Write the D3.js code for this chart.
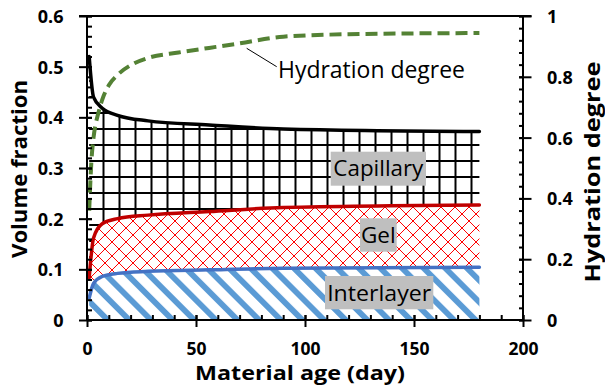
<!DOCTYPE html>
<html>
<head>
<meta charset="utf-8">
<script src="https://cdn.jsdelivr.net/npm/d3@7"></script>
<style>
  html, body { margin: 0; padding: 0; background: #fff; }
  svg { display: block; }
  text { font-family: "Open Sans", Lato, sans-serif; }
</style>
</head>
<body>
<svg id="chart" width="605" height="390"></svg>
<script>
// Material age (days) at which the pore volume fractions were computed
const days = [1, 3, 7, 14, 28, 56, 90, 180];
// Cumulative volume fraction: top of interlayer, top of gel, top of capillary
const interlayerTop = [0.043, 0.072, 0.086, 0.092, 0.096, 0.099, 0.102, 0.104];
const gelTop        = [0.083, 0.162, 0.190, 0.200, 0.207, 0.214, 0.222, 0.227];
const capillaryTop  = [0.520, 0.440, 0.418, 0.404, 0.393, 0.385, 0.377, 0.372];

// Degree of hydration (right axis)
const hydrationDays = [1, 2, 3, 4, 5, 7, 10, 14, 21, 28, 42, 56, 70, 90, 120, 180];
const hydration     = [0.36, 0.52, 0.60, 0.645, 0.675, 0.725, 0.772, 0.806, 0.842, 0.862, 0.88, 0.895, 0.91, 0.932, 0.94, 0.944];

// Axis ticks
const xMajor = [0, 50, 100, 150, 200];
const xMinor = d3.range(0, 201, 10);
const yLeftMajor = [0, 0.1, 0.2, 0.3, 0.4, 0.5, 0.6];
const yLeftMinor = d3.range(0, 0.6001, 0.02);
const yRightMajor = [0, 0.2, 0.4, 0.6, 0.8, 1];
const yRightMinor = d3.range(0, 1.0001, 0.04);

const zoneNames = ["Capillary", "Gel", "Interlayer"];

const svg = d3.select("#chart");
const x = d3.scaleLinear().domain([0, 200]).range([87, 523]);
const yL = d3.scaleLinear().domain([0, 0.6]).range([320, 16]);
const yR = d3.scaleLinear().domain([0, 1]).range([320, 16]);

// ---- fill patterns ----
const defs = svg.append("defs");

// capillary: black square grid
const grid = defs.append("pattern").attr("id", "pGrid")
  .attr("patternUnits", "userSpaceOnUse")
  .attr("x", 6.5).attr("y", 0).attr("width", 16).attr("height", 16);
grid.append("rect").attr("x", 0).attr("y", 0).attr("width", 2).attr("height", 16).attr("fill", "#000");
grid.append("rect").attr("x", 0).attr("y", 0).attr("width", 16).attr("height", 2).attr("fill", "#000");

// gel: red diagonal crosshatch
const cross = defs.append("pattern").attr("id", "pCross")
  .attr("patternUnits", "userSpaceOnUse")
  .attr("x", 0).attr("y", 4).attr("width", 14).attr("height", 14);
cross.append("path").attr("d", "M0,0L14,14M14,0L0,14")
  .attr("stroke", "#ff0000").attr("stroke-width", 1).attr("fill", "none")
  .attr("shape-rendering", "crispEdges");

// interlayer: wide blue downward diagonal stripes
const stripe = defs.append("pattern").attr("id", "pStripe")
  .attr("patternUnits", "userSpaceOnUse")
  .attr("width", 15.3).attr("height", 15.3)
  .attr("patternTransform", "rotate(-45)");
stripe.append("rect").attr("x", 0).attr("y", 0).attr("width", 5.8).attr("height", 15.3).attr("fill", "#5b9bd5");

// ---- stacked zones ----
const rows = days.map((d, i) => ({ d, a: interlayerTop[i], g: gelTop[i], c: capillaryTop[i] }));
const curve = d3.curveMonotoneX;

svg.append("path").datum(rows)
  .attr("fill", "url(#pStripe)")
  .attr("d", d3.area().curve(curve).x(r => x(r.d)).y0(yL(0)).y1(r => yL(r.a)));
svg.append("path").datum(rows)
  .attr("fill", "url(#pCross)")
  .attr("d", d3.area().curve(curve).x(r => x(r.d)).y0(r => yL(r.a)).y1(r => yL(r.g)));
svg.append("path").datum(rows)
  .attr("fill", "url(#pGrid)")
  .attr("d", d3.area().curve(curve).x(r => x(r.d)).y0(r => yL(r.g)).y1(r => yL(r.c)));

// ---- boundary lines ----
const lineOf = key => d3.line().curve(curve).x(r => x(r.d)).y(r => yL(r[key]));
[["a", "#4472c4"], ["g", "#c00000"], ["c", "#000000"]].forEach(([k, col]) => {
  svg.append("path").datum(rows)
    .attr("fill", "none").attr("stroke", col).attr("stroke-width", 3.5)
    .attr("stroke-linecap", "round").attr("stroke-linejoin", "round")
    .attr("d", lineOf(k));
});

// ---- hydration degree ----
const hyd = hydrationDays.map((d, i) => ({ d, h: hydration[i] }));
svg.append("path").datum(hyd)
  .attr("fill", "none").attr("stroke", "#548235").attr("stroke-width", 4)
  .attr("stroke-dasharray", "12,6")
  .attr("d", d3.line().curve(curve).x(p => x(p.d)).y(p => yR(p.h)));

// ---- axes ----
const axisStyle = g => {
  g.select(".domain").remove();
  g.selectAll("line").attr("stroke", "#000").attr("stroke-width", 2);
  g.selectAll("text").attr("font-weight", "bold").attr("font-size", 18)
    .attr("fill", "#000").attr("font-family", "'Open Sans', sans-serif");
};

// frame
svg.append("line").attr("x1", 79).attr("x2", 531.5).attr("y1", 16).attr("y2", 16)
  .attr("stroke", "#000").attr("stroke-width", 2);
svg.append("line").attr("x1", 87).attr("x2", 87).attr("y1", 16).attr("y2", 321)
  .attr("stroke", "#000").attr("stroke-width", 2);
svg.append("line").attr("x1", 523).attr("x2", 523).attr("y1", 16).attr("y2", 321)
  .attr("stroke", "#000").attr("stroke-width", 2);
svg.append("line").attr("x1", 86).attr("x2", 524).attr("y1", 320).attr("y2", 320)
  .attr("stroke", "#000").attr("stroke-width", 2);

// bottom axis
svg.append("g").attr("transform", "translate(0,320)")
  .call(d3.axisBottom(x).tickValues(xMinor).tickSize(-5).tickFormat(""))
  .call(axisStyle);
svg.append("g").attr("transform", "translate(0,320)")
  .call(d3.axisBottom(x).tickValues(xMajor).tickSize(7).tickFormat(d3.format("d")))
  .call(axisStyle)
  .call(g => {
    g.selectAll(".tick line").attr("y1", -5).attr("y2", 7);
    g.selectAll(".tick text").attr("y", 35).attr("dy", 0).attr("font-size", 17.5);
  });

// left axis
const fmtL = d => d === 0 ? "0" : d3.format(".1f")(d);
svg.append("g").attr("transform", "translate(87,0)")
  .call(d3.axisLeft(yL).tickValues(yLeftMinor).tickSize(-5).tickFormat(""))
  .call(axisStyle);
svg.append("g").attr("transform", "translate(87,0)")
  .call(d3.axisLeft(yL).tickValues(yLeftMajor).tickSize(8).tickFormat(fmtL))
  .call(axisStyle)
  .call(g => {
    g.selectAll(".tick line").attr("x1", 5).attr("x2", -8);
    g.selectAll(".tick text").attr("x", -23.5).attr("dy", "0.36em");
  });

// right axis
const fmtR = d => (d === 0 || d === 1) ? String(d) : d3.format(".1f")(d);
svg.append("g").attr("transform", "translate(523,0)")
  .call(d3.axisRight(yR).tickValues(yRightMinor).tickSize(-4).tickFormat(""))
  .call(axisStyle);
svg.append("g").attr("transform", "translate(523,0)")
  .call(d3.axisRight(yR).tickValues(yRightMajor).tickSize(8.5).tickFormat(fmtR))
  .call(axisStyle)
  .call(g => {
    g.selectAll(".tick line").attr("x1", -4).attr("x2", 8.5);
    g.selectAll(".tick text").attr("x", 24).attr("dy", "0.36em");
  });

// ---- axis titles ----
svg.append("text").attr("x", 300).attr("y", 380)
  .attr("text-anchor", "middle").attr("font-weight", "bold").attr("font-size", 20)
  .attr("textLength", 210).attr("lengthAdjust", "spacingAndGlyphs")
  .text("Material age (day)");
svg.append("text").attr("transform", "translate(27,169) rotate(-90)")
  .attr("text-anchor", "middle").attr("font-weight", "bold").attr("font-size", 21)
  .attr("textLength", 178).attr("lengthAdjust", "spacingAndGlyphs")
  .text("Volume fraction");
svg.append("text").attr("transform", "translate(600,172) rotate(-90)")
  .attr("text-anchor", "middle").attr("font-weight", "bold").attr("font-size", 20.5)
  .attr("textLength", 221).attr("lengthAdjust", "spacingAndGlyphs")
  .text("Hydration degree");

// ---- zone labels on grey boxes ----
const boxes = [
  { x0: 330.7, x1: 426, y0: 151.7, y1: 185.7, base: 176, w: 90 },
  { x0: 360, x1: 396.7, y0: 218.3, y1: 251.7, base: 243.3, w: 34.7 },
  { x0: 325, x1: 433.3, y0: 276, y1: 309.3, base: 301, w: 104 }
];
boxes.forEach((b, i) => {
  svg.append("rect").attr("x", b.x0).attr("y", b.y0)
    .attr("width", b.x1 - b.x0).attr("height", b.y1 - b.y0).attr("fill", "#bfbfbf");
  svg.append("text").attr("x", (b.x0 + b.x1) / 2).attr("y", b.base)
    .attr("text-anchor", "middle").attr("font-size", 21.5).attr("fill", "#000")
    .attr("textLength", b.w).attr("lengthAdjust", "spacingAndGlyphs")
    .text(zoneNames[i]);
});

// ---- hydration callout ----
svg.append("line").attr("x1", 276.7).attr("y1", 66.7).attr("x2", 246.7).attr("y2", 48.3)
  .attr("stroke", "#000").attr("stroke-width", 1);
svg.append("text").attr("x", 278).attr("y", 78.3)
  .attr("font-size", 23).attr("fill", "#000")
  .attr("textLength", 187).attr("lengthAdjust", "spacingAndGlyphs")
  .text("Hydration degree");
</script>
</body>
</html>
